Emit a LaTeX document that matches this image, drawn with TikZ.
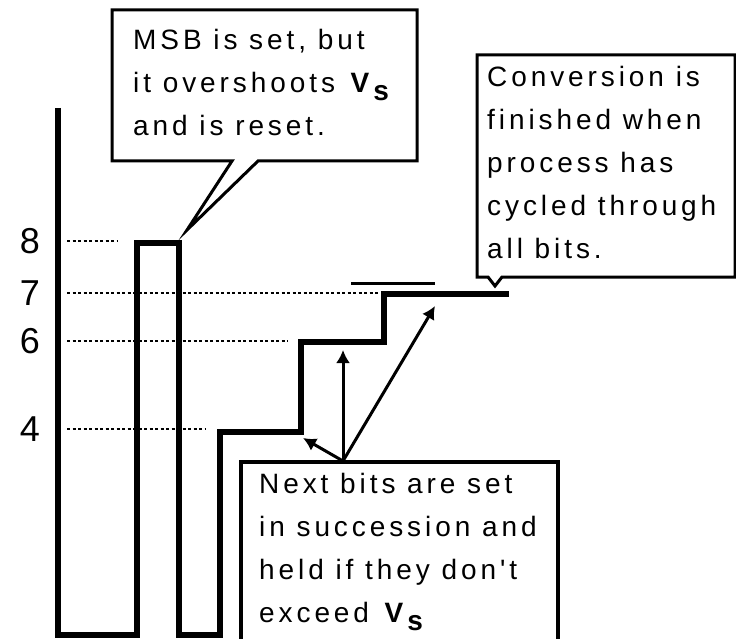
\documentclass[tikz,border=0pt]{standalone}
\usepackage{fontspec}
\newfontfamily\macfont{Liberation Sans}[LetterSpace=14]
\usetikzlibrary{arrows.meta}
\newcommand{\Vsig}{\textbf{V}\raisebox{-0.3em}{\textbf{s}}}
\tikzset{
  wave/.style={line width=6.5pt, line join=miter},
  levelline/.style={line width=2.5pt, dash pattern=on 3pt off 2.5pt},
  callout/.style={line width=3pt, line join=miter},
  boxtext/.style={inner sep=0pt, anchor=north west, align=left,
    font=\macfont\fontsize{28}{43}\selectfont},
  levellabel/.style={inner sep=0pt, font=\macfont\fontsize{36}{36}\selectfont},
  pointer/.style={line width=3pt, -{Latex[length=13pt,width=14pt]}}
}
\begin{document}
\begin{tikzpicture}[x=1pt,y=-1pt]
\useasboundingbox (0,0) rectangle (736,639);
\clip (0,0) rectangle (736,639);
% level labels and dotted guides
\node[levellabel] (l8) at (30,241) {8};
\node[levellabel] (l7) at (30,293) {7};
\node[levellabel] (l6) at (30,341) {6};
\node[levellabel] (l4) at (30,429) {4};
\draw[levelline] (67,241) -- (118,241);
\draw[levelline] (67,293) -- (380,293);
\draw[levelline] (67,341) -- (288,341);
\draw[levelline] (67,429) -- (205,429);
% DAC output
\draw[wave] (58,108) -- (58,635) -- (137,635) -- (137,243) -- (179,243)
  -- (179,635) -- (220,635) -- (220,432) -- (301,432) -- (301,342)
  -- (384,342) -- (384,294) -- (509,294);
\draw[line width=3pt] (351,283) -- (435,283);
% MSB callout
\draw[callout] (112,10) -- (417,10) -- (417,161) -- (258,161) -- (187,230)
  -- (232,161) -- (112,161) -- cycle;
\node[boxtext] (msb) at (133,29) {MSB is set, but\\it overshoots \Vsig\\and is reset.};
% end callout
\draw[callout] (477,55) -- (735,55) -- (735,277) -- (502,277) -- (495,286)
  -- (488,277) -- (477,277) -- cycle;
\node[boxtext] (done) at (487,66) {Conversion is\\finished when\\process has\\cycled through\\all bits.};
% next bits box
\draw[line width=4pt] (241,660) -- (241,462) -- (558,462) -- (558,660);
\node[boxtext] (next) at (259,473) {Next bits are set\\in succession and\\held if they don't\\exceed \Vsig};
\coordinate (src) at (343,461);
\coordinate (bitfour) at (303,438);
\coordinate (bitsix) at (343,350);
\coordinate (bitseven) at (435,306);
\draw[pointer] (src) -- (bitfour);
\draw[pointer] (src) -- (bitsix);
\draw[pointer] (src) -- (bitseven);
\end{tikzpicture}
\end{document}
